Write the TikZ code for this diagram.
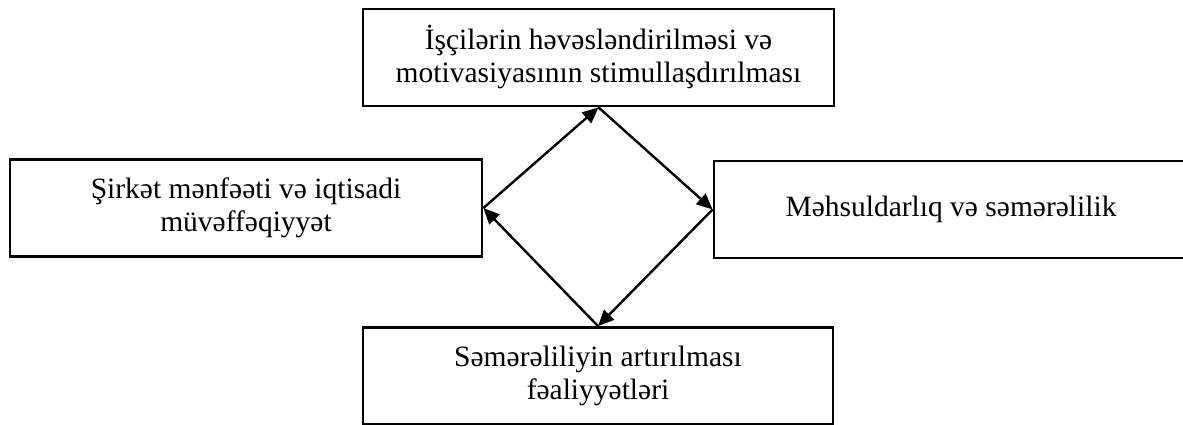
\documentclass[tikz,border=0pt]{standalone}
\usepackage{fontspec}
\setmainfont{Liberation Serif}
\usetikzlibrary{arrows.meta}
\begin{document}
\begin{tikzpicture}[x=1pt,y=-1pt,
  box/.style={draw, line width=2.8pt, minimum height=97pt, inner sep=0pt,
    align=center, font=\fontsize{29.5}{33}\selectfont},
  link/.style={line width=2.4pt, -{Triangle[length=16pt,width=14pt]}}]
\useasboundingbox (0,0) rectangle (1183,425);
\node[box, minimum width=471pt] (motiv) at (598.5,57.5)
  {İşçilərin həvəsləndirilməsi və\\motivasiyasının stimullaşdırılması};
\node[box, minimum width=472pt] (profit) at (246,208)
  {Şirkət mənfəəti və iqtisadi\\müvəffəqiyyət};
\node[box, minimum width=474pt] (prod) at (951,209.5)
  {Məhsuldarlıq və səmərəlilik};
\node[box, minimum width=470pt] (effic) at (598,376)
  {Səmərəliliyin artırılması\\fəaliyyətləri};
\draw[link] (profit.east) -- (motiv.south);
\draw[link] (motiv.south) -- (prod.west);
\draw[link] (prod.west) -- (effic.north);
\draw[link] (effic.north) -- (profit.east);
\end{tikzpicture}
\end{document}
